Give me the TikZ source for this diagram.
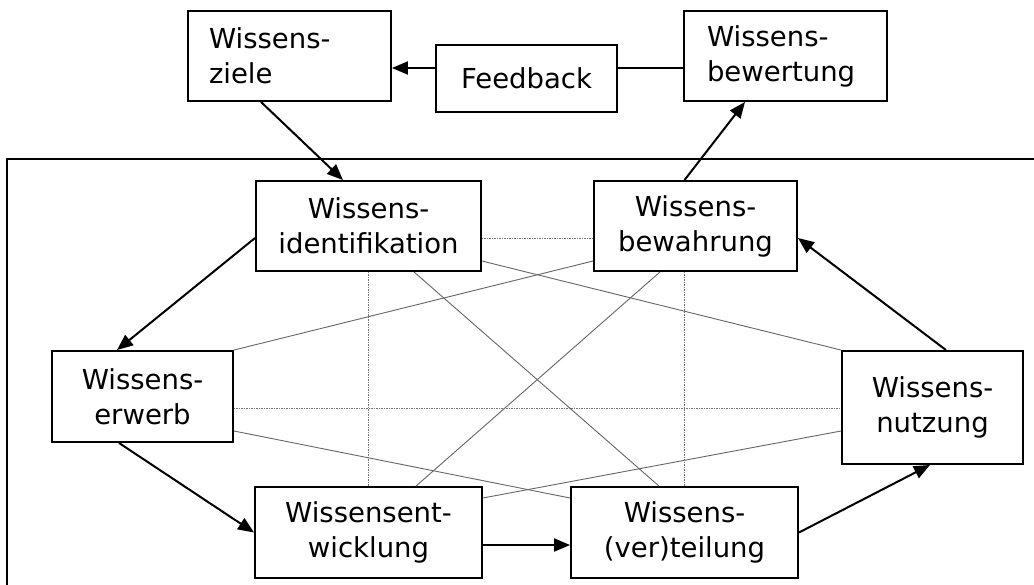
\documentclass[tikz,border=0pt]{standalone}
\usepackage{fontspec}
\setmainfont{DejaVu Sans}
\usetikzlibrary{arrows.meta,calc}
\tikzset{
  box/.style={draw=black, line width=1.9pt, fill=white, inner sep=0pt, align=center,
    font=\fontsize{27.5}{35}\selectfont},
  lbox/.style={box, align=left, inner ysep=0pt},
  arr/.style={draw=black, line width=2pt, -{Triangle[length=16pt,width=13pt]}},
  plain/.style={draw=black, line width=2pt},
  gline/.style={draw=black!60, line width=0.9pt},
  gdot/.style={draw=black!55, line width=1pt, dash pattern=on 1.5pt off 1pt},
  frame/.style={draw=black, line width=1.9pt}
}
\begin{document}
\begin{tikzpicture}[x=1pt,y=-1pt]
\clip (0,0) rectangle (1034,584);
\fill[white] (0,0) rectangle (1034,584);
% frame
\coordinate (fbl) at (7,600);
\coordinate (ftl) at (7,159);
\coordinate (ftr) at (1060,159);
\draw[frame] (fbl) -- (ftl) -- (ftr);
% nodes
\node[lbox, text width=161pt, inner xsep=21pt, minimum height=90pt] (ziele) at (289.5,56) {Wissens-\\ziele};
\node[box, minimum width=181pt, minimum height=67pt] (feedback) at (526.5,78.5) {Feedback};
\node[lbox, text width=157pt, inner xsep=23pt, minimum height=90pt] (bewertung) at (785.5,56) {Wissens-\\bewertung};
\node[box, minimum width=225pt, minimum height=90pt] (ident) at (368.5,226) {Wissens-\\identifikation};
\node[box, minimum width=203pt, minimum height=90pt] (bewahrung) at (695.5,226) {Wissens-\\bewahrung};
\node[box, minimum width=181pt, minimum height=91pt] (erwerb) at (142.5,396.5) {Wissens-\\erwerb};
\node[box, minimum width=181pt, minimum height=113pt] (nutzung) at (932.5,407.5) {Wissens-\\nutzung};
\node[box, minimum width=227pt, minimum height=91pt] (entw) at (368.5,532.5) {Wissensent-\\wicklung};
\node[box, minimum width=227pt, minimum height=91pt] (vert) at (684.5,532.5) {Wissens-\\(ver)teilung};
% grey connections
\draw[gdot] ([yshift=-12pt]ident.east) -- ([yshift=-12pt]ident.east -| bewahrung.west);
\draw[gdot] ([yshift=-11.5pt]erwerb.east) -- ([yshift=-11.5pt]erwerb.east -| nutzung.west);
\draw[gdot] (ident.south) -- (entw.north);
\draw[gdot] (vert.north |- bewahrung.south) -- (vert.north);
\draw[gline] (erwerb.north east) -- ([yshift=-35pt]bewahrung.west);
\draw[gline] ([yshift=-35pt]ident.east) -- (nutzung.north west);
\draw[gline] ([xshift=45.5pt]ident.south) -- ([xshift=-25.5pt]vert.north);
\draw[gline] ([xshift=-35.5pt]bewahrung.south) -- ([xshift=47.5pt]entw.north);
\draw[gline] ([yshift=-34.5pt]erwerb.east) -- ([yshift=34.5pt]vert.west);
\draw[gline] ([yshift=34.5pt]entw.east) -- ([yshift=-23.5pt]nutzung.west);
% black connections
\draw[arr] ([yshift=10.5pt]feedback.west) -- ([yshift=10.5pt]feedback.west -| ziele.east);
\draw[plain] ([yshift=10.5pt]feedback.east) -- ([yshift=10.5pt]feedback.east -| bewertung.west);
\draw[arr] ([xshift=-28.5pt]ziele.south) -- ([xshift=-25.5pt]ident.north);
\draw[arr] ([xshift=-11pt]bewahrung.north) -- ([xshift=-40.5pt]bewertung.south);
\draw[arr] ([yshift=-12pt]ident.west) -- ([xshift=-25.5pt]erwerb.north);
\draw[arr] ([xshift=-23.5pt]erwerb.south) -- (entw.west);
\draw[arr] ([yshift=-12.5pt]entw.east) -- ([yshift=-12.5pt]entw.east -| vert.west);
\draw[arr] (vert.east) -- ([xshift=-2.5pt]nutzung.south);
\draw[arr] ([xshift=13.5pt]nutzung.north) -- ([yshift=-12pt]bewahrung.east);
\end{tikzpicture}
\end{document}
